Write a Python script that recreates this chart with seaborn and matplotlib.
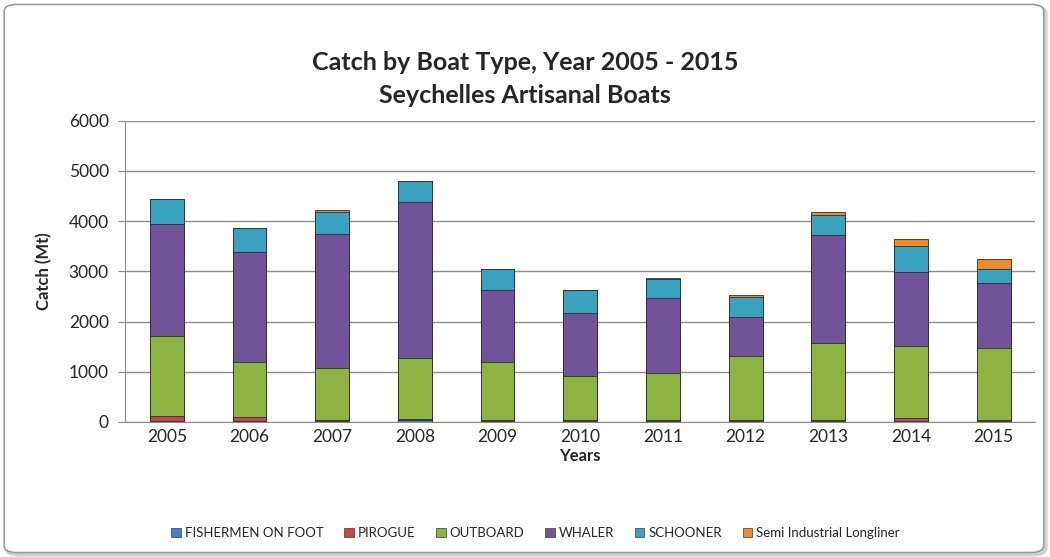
import numpy as np
import pandas as pd
import matplotlib
matplotlib.use("Agg")
import matplotlib.pyplot as plt
from matplotlib.patches import FancyBboxPatch
import seaborn as sns

years = ["2005", "2006", "2007", "2008", "2009", "2010",
         "2011", "2012", "2013", "2014", "2015"]

fishermen_on_foot = [20, 15, 10, 30, 10, 10, 10, 10, 10, 10, 10]
pirogue = [90, 90, 20, 20, 20, 20, 20, 20, 20, 60, 20]
outboard = [1600, 1080, 1050, 1230, 1160, 890, 950, 1280, 1550, 1450, 1445]
whaler = [2230, 2190, 2660, 3090, 1440, 1240, 1490, 780, 2150, 1460, 1300]
schooner = [500, 480, 435, 435, 420, 460, 380, 400, 385, 520, 265]
longliner = [0, 0, 35, 0, 0, 0, 20, 35, 65, 145, 205]

series = ["FISHERMEN ON FOOT", "PIROGUE", "OUTBOARD", "WHALER",
          "SCHOONER", "Semi Industrial Longliner"]
colors = ["#4A7EBB", "#BE4B48", "#8DB342", "#71539A", "#3AA1BF", "#F08A2E"]

df = pd.DataFrame({
    "Year": years,
    series[0]: fishermen_on_foot,
    series[1]: pirogue,
    series[2]: outboard,
    series[3]: whaler,
    series[4]: schooner,
    series[5]: longliner,
})
# cumulative tops, drawn from the tallest down so the stack shows
cum = df[series].cumsum(axis=1)

sns.set_style("white")
plt.rcParams["font.family"] = ["Lato", "DejaVu Sans"]

fig = plt.figure(figsize=(10.5, 5.57), dpi=100)
ax = fig.add_axes([0.1195, 0.2424, 0.8662, 0.5412])
ax.patch.set_alpha(0)

for name, col in reversed(list(zip(series, colors))):
    sns.barplot(x=df["Year"], y=cum[name], color=col, width=0.41,
                edgecolor="#2e2e2e", linewidth=0.6, saturation=1, ax=ax)

ax.set_ylim(0, 6000)
ax.set_yticks(range(0, 6001, 1000))
ax.set_xlim(-0.5, len(years) - 0.5)
ax.grid(axis="y", color="#8c8c8c", linewidth=1)
ax.set_axisbelow(True)
for s in ["top", "right"]:
    ax.spines[s].set_visible(False)
ax.spines["left"].set_color("#8c8c8c")
ax.spines["bottom"].set_color("#8c8c8c")

# tick marks between categories, Excel style
ax.set_xticks(np.arange(-0.5, len(years), 1.0), minor=True)
ax.tick_params(axis="x", which="major", length=0, labelsize=12.5, pad=5)
ax.tick_params(axis="x", which="minor", length=5, color="#8c8c8c")
ax.tick_params(axis="y", length=5, color="#8c8c8c", labelsize=12.5,
               left=True, pad=7)

ax.set_xlabel("Years", fontsize=12, fontweight="bold", labelpad=2)
ax.set_ylabel("Catch (Mt)", fontsize=12, fontweight="bold", labelpad=12)

fig.text(0.5, 0.887, "Catch by Boat Type, Year 2005 - 2015",
         ha="center", va="center", fontsize=18, fontweight="bold")
fig.text(0.5, 0.829, "Seychelles Artisanal Boats",
         ha="center", va="center", fontsize=18, fontweight="bold")

handles = [plt.Rectangle((0, 0), 1, 1, facecolor=c, edgecolor="#3a3a3a",
                         linewidth=0.5) for c in colors]
fig.legend(handles, series, loc="center", bbox_to_anchor=(0.51, 0.043),
           ncol=6, frameon=False, fontsize=9.5, handlelength=0.7,
           handleheight=0.7, handletextpad=0.3, columnspacing=1.6)

shadow = FancyBboxPatch((0.006, 0.004), 0.99, 0.984,
                        boxstyle="round,pad=0,rounding_size=0.012",
                        transform=fig.transFigure, facecolor="none",
                        edgecolor="#d0d0d0", linewidth=2.5, zorder=-2)
fig.patches.append(shadow)
border = FancyBboxPatch((0.004, 0.008), 0.99, 0.984,
                        boxstyle="round,pad=0,rounding_size=0.012",
                        transform=fig.transFigure, facecolor="white",
                        edgecolor="#9a9a9a", linewidth=1.2, zorder=-1)
fig.patches.append(border)

fig.savefig("out.png", dpi=100)
